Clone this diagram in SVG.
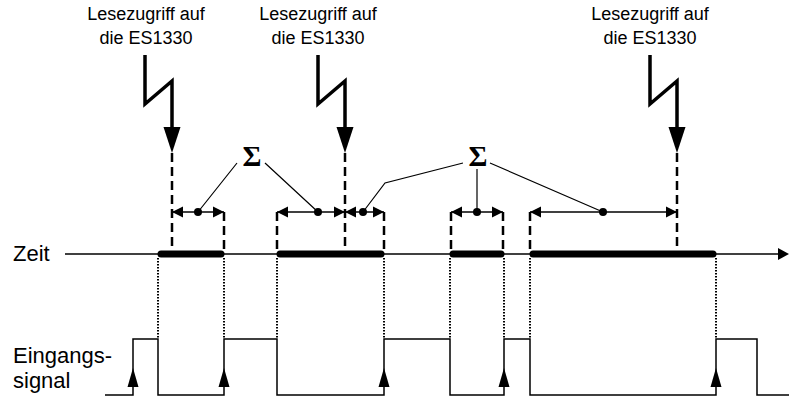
<svg xmlns="http://www.w3.org/2000/svg" width="789" height="397" viewBox="0 0 789 397">
<style>
.lbl{font-family:"Liberation Sans",Arial,sans-serif;font-size:18px;fill:#000;text-anchor:middle}
.side{font-family:"Liberation Sans",Arial,sans-serif;font-size:22px;fill:#000}
.sig{font-family:"Liberation Serif","Times New Roman",serif;font-size:29px;font-weight:bold;fill:#000;text-anchor:middle}
.bolt{fill:none;stroke:#000;stroke-width:3.5;stroke-linejoin:miter}
.dash{stroke:#000;stroke-width:2.5;stroke-dasharray:9,5;fill:none}
.dot{stroke:#000;stroke-width:2;stroke-dasharray:1.5,1.5;fill:none}
.dim{stroke:#000;stroke-width:1.3;fill:none;marker-start:url(#da);marker-end:url(#da)}
.lead{stroke:#000;stroke-width:1.2;fill:none}
.bar{stroke:#000;stroke-width:7;stroke-linecap:round}
.wave{fill:none;stroke:#000;stroke-width:1.5}
</style>
<defs>
<marker id="da" markerUnits="userSpaceOnUse" markerWidth="12" markerHeight="12" refX="11" refY="6" orient="auto-start-reverse">
<path d="M0,0.5 L11,6 L0,11.5 Z" fill="#000"/>
</marker>
<path id="up" d="M-5.5,387 L0,368 L5.5,387 Z" fill="#000"/>
</defs>

<g id="label-zeit"><text class="side" x="13" y="261">Zeit</text></g>
<g id="label-eingang"><text class="side" x="13" y="363">Eingangs-</text><text class="side" x="13" y="388">signal</text></g>

<g id="access1">
<text class="lbl" x="146" y="20">Lesezugriff auf</text>
<text class="lbl" x="146" y="44">die ES1330</text>
<path class="bolt" d="M145,55 V104 L172,81 V128"/>
<path d="M163.5,127 L180.5,127 L172,153 Z" fill="#000"/>
</g>
<g id="access2">
<text class="lbl" x="318" y="20">Lesezugriff auf</text>
<text class="lbl" x="318" y="44">die ES1330</text>
<path class="bolt" d="M318,55 V104 L345,81 V128"/>
<path d="M336.5,127 L353.5,127 L345,153 Z" fill="#000"/>
</g>
<g id="access3">
<text class="lbl" x="650" y="20">Lesezugriff auf</text>
<text class="lbl" x="650" y="44">die ES1330</text>
<path class="bolt" d="M650,55 V104 L677,81 V128"/>
<path d="M668.5,127 L685.5,127 L677,153 Z" fill="#000"/>
</g>

<g id="sigma1"><text class="sig" x="252" y="166">Σ</text></g>
<g id="sigma2"><text class="sig" x="478" y="166">Σ</text></g>

<g id="timeline">
<line x1="65" y1="254" x2="779" y2="254" stroke="#000" stroke-width="1.3"/>
<path d="M778,248 L789,254 L778,260 Z" fill="#000"/>
<line class="bar" x1="161" y1="254" x2="221" y2="254"/>
<line class="bar" x1="280" y1="254" x2="381" y2="254"/>
<line class="bar" x1="453" y1="254" x2="501" y2="254"/>
<line class="bar" x1="533" y1="254" x2="713" y2="254"/>
</g>

<g id="signal">
<path class="wave" d="M105,395 H133 V339 H158 V395 H224 V339 H277 V395 H384 V339 H450 V395 H504 V339 H530 V395 H716 V339 H757 V395 H789"/>
<use href="#up" x="133"/>
<use href="#up" x="224"/>
<use href="#up" x="384"/>
<use href="#up" x="504"/>
<use href="#up" x="716"/>
</g>

<g id="connectors">
<path class="dash" d="M172,153 V249 M345,153 V249 M677,153 V249 M224,212 V250 M277,212 V250 M384,212 V250 M451,212 V250 M503,212 V250 M530,212 V250"/>
<path class="dot" d="M158,258 V338 M224,258 V338 M277,258 V338 M384,258 V338 M450,258 V338 M504,258 V338 M530,258 V338 M716,258 V338"/>
<line class="dim" x1="172" y1="212" x2="224" y2="212"/>
<line class="dim" x1="277" y1="212" x2="345" y2="212"/>
<line class="dim" x1="345" y1="212" x2="384" y2="212"/>
<line class="dim" x1="451" y1="212" x2="503" y2="212"/>
<line class="dim" x1="530" y1="212" x2="677" y2="212"/>
<g fill="#000">
<circle cx="198" cy="212" r="4"/>
<circle cx="318" cy="212" r="4"/>
<circle cx="363" cy="212" r="4"/>
<circle cx="477" cy="212" r="4"/>
<circle cx="603" cy="212" r="4"/>
</g>
<path class="lead" d="M237,163 L198,212 M265,163 L318,212 M463,163 L385,183 L363,212 M477,169 V212 M490,163 L603,212"/>
</g>
</svg>
